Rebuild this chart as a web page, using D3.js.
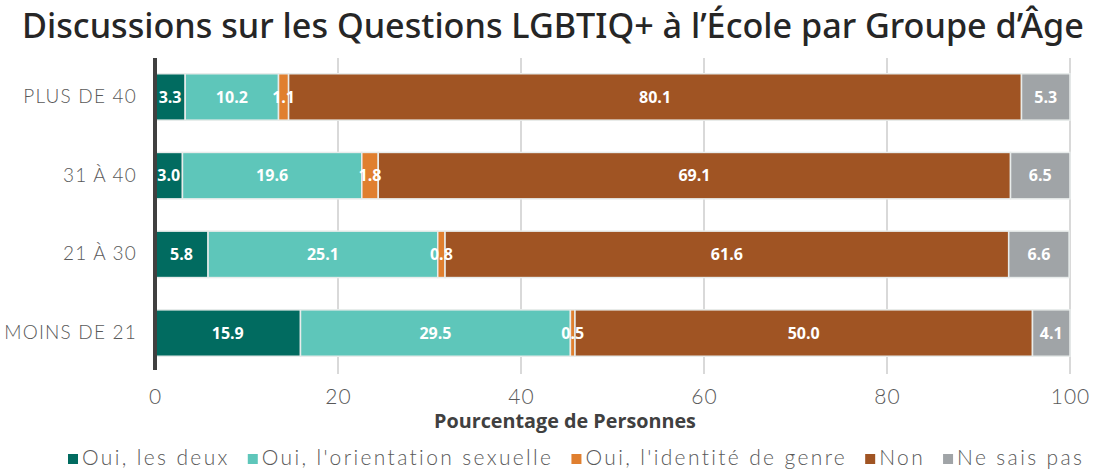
<!DOCTYPE html>
<meta charset="utf-8">
<style>
  body { margin: 0; background: #fff; }
  .tick text { font-family: Lato, "Open Sans", sans-serif; font-weight: 300; }
</style>
<svg id="chart" width="1094" height="474"></svg>
<script src="https://cdn.jsdelivr.net/npm/d3@7"></script>
<script>
var groups = ["PLUS DE 40", "31 À 40", "21 À 30", "MOINS DE 21"];
var series = ["Oui, les deux", "Oui, l'orientation sexuelle", "Oui, l'identité de genre", "Non", "Ne sais pas"];
var colors = ["#016b60", "#5ec6ba", "#e07f2f", "#a05423", "#a0a4a7"];
var ouiDeux = [3.3, 3.0, 5.8, 15.9];
var ouiOrient = [10.2, 19.6, 25.1, 29.5];
var ouiGenre = [1.1, 1.8, 0.8, 0.5];
var non = [80.1, 69.1, 61.6, 50.0];
var nsp = [5.3, 6.5, 6.6, 4.1];
var xTicks = [0, 20, 40, 60, 80, 100];

var values = [ouiDeux, ouiOrient, ouiGenre, non, nsp];
var rows = groups.map(function (g, i) {
    var r = { group: g };
    series.forEach(function (s, j) { r[s] = values[j][i]; });
    return r;
});
var stacked = d3.stack().keys(series)(rows);

var svg = d3.select("#chart");
var margin = { left: 155, right: 24, top: 58 };
var width = 1094 - margin.left - margin.right;   // 915

var x = d3.scaleLinear().domain([0, 100]).range([margin.left, margin.left + width]);
var y = d3.scaleBand().domain(groups).range([margin.top, margin.top + 314]).paddingInner(0.41).paddingOuter(0.2);

// fit a text element to a given width by adjusting its font size
function fitWidth(t, w) {
    var fs = parseFloat(t.style("font-size"));
    var len = t.node().getComputedTextLength();
    t.style("font-size", (fs * w / len) + "px");
}

// title
var title = svg.append("text")
    .attr("x", 553).attr("y", 38)
    .attr("text-anchor", "middle")
    .style("font-family", "'Noto Sans', sans-serif")
    .style("font-weight", 500)
    .style("font-size", "28px")
    .attr("fill", "#262626")
    .text("Discussions sur les Questions LGBTIQ+ à l’École par Groupe d’Âge");
fitWidth(title, 1062);

// gridlines
svg.append("g").selectAll("line")
    .data(xTicks.slice(1))
    .join("line")
    .attr("x1", d => x(d)).attr("x2", d => x(d))
    .attr("y1", margin.top).attr("y2", 374)
    .attr("stroke", "#d9d9d9").attr("stroke-width", 2);

// x axis labels
var xAxis = d3.axisBottom(x).tickValues(xTicks).tickSize(0).tickPadding(0);
svg.append("g")
    .attr("transform", "translate(0,384)")
    .call(xAxis)
    .call(g => g.select(".domain").remove())
    .call(g => g.selectAll("text")
        .attr("dy", "0.95em")
        .style("font-size", "21px")
        .style("letter-spacing", "1px")
        .attr("fill", "#595959"));

var xTitle = svg.append("text")
    .attr("x", 565).attr("y", 428)
    .attr("text-anchor", "middle")
    .style("font-family", "'Open Sans', sans-serif")
    .style("font-weight", 700)
    .style("font-size", "17px")
    .attr("fill", "#404040")
    .text("Pourcentage de Personnes");
fitWidth(xTitle, 262);

// bars
svg.append("g").selectAll("g")
    .data(stacked)
    .join("g")
    .attr("fill", (d, i) => colors[i])
    .selectAll("rect")
    .data(d => d)
    .join("rect")
    .attr("x", d => x(d[0]))
    .attr("width", d => x(d[1]) - x(d[0]))
    .attr("y", d => y(d.data.group))
    .attr("height", y.bandwidth())
    .attr("stroke", "#e8eceb")
    .attr("stroke-width", 1.5);

// value labels, drawn above all bars
svg.append("g").selectAll("g")
    .data(stacked)
    .join("g")
    .selectAll("text")
    .data(d => d)
    .join("text")
    .attr("x", d => (x(d[0]) + x(d[1])) / 2)
    .attr("y", d => y(d.data.group) + y.bandwidth() / 2)
    .attr("dy", "0.36em")
    .attr("text-anchor", "middle")
    .style("font-family", "'Open Sans', sans-serif")
    .style("font-weight", 700)
    .style("font-size", "16px")
    .attr("fill", "#fff")
    .text(d => (d[1] - d[0]).toFixed(1));

// y axis
var yAxis = d3.axisLeft(y).tickSize(0).tickPadding(18);
svg.append("g")
    .attr("transform", "translate(" + margin.left + ",0)")
    .call(yAxis)
    .call(g => g.select(".domain").remove())
    .call(g => g.selectAll("text")
        .style("font-size", "19px")
        .style("letter-spacing", "1.2px")
        .attr("fill", "#595959"));

svg.append("line")
    .attr("x1", margin.left).attr("x2", margin.left)
    .attr("y1", margin.top).attr("y2", 370)
    .attr("stroke", "#404040").attr("stroke-width", 4);

// legend: stretch letter spacing so it spans 68..1085 like the original
var legend = svg.append("g").attr("transform", "translate(0,465)");
var items = series.map(function (s, i) {
    var item = legend.append("g");
    item.append("rect").attr("x", 0).attr("y", -11).attr("width", 10).attr("height", 10).attr("fill", colors[i]);
    var t = item.append("text")
        .attr("x", 14).attr("y", 0)
        .style("font-family", "Lato, 'Open Sans', sans-serif")
        .style("font-weight", 300)
        .style("font-size", "21px")
        .attr("fill", "#595959")
        .text(s);
    return { g: item, t: t, s: s };
});
var gap = 18, boxW = 14;
var plain = d3.sum(items, d => d.t.node().getComputedTextLength());
var chars = d3.sum(items, d => d.s.length);
var spacing = (1085 - 68 - items.length * boxW - (items.length - 1) * gap - plain) / chars;
var lx = 68;
items.forEach(function (d) {
    d.t.style("letter-spacing", spacing + "px");
    d.g.attr("transform", "translate(" + lx + ",0)");
    lx += boxW + d.t.node().getComputedTextLength() + gap;
});
</script>
